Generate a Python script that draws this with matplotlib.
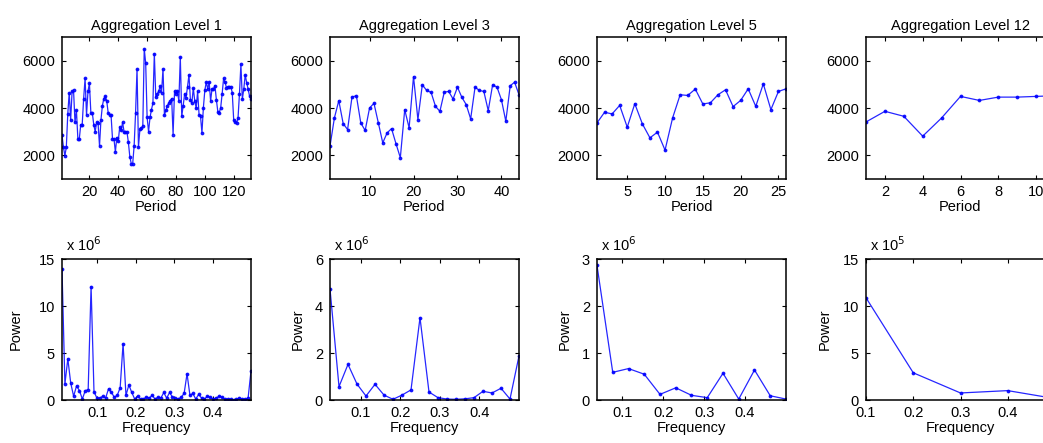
import numpy as np
import matplotlib
matplotlib.use("Agg")
import matplotlib.pyplot as plt

# ---------------- data ----------------
level1 = [2850, 2350, 1980, 2350, 3750, 4650, 3500, 4700, 4750, 3400, 3900, 2700,
          2700, 3300, 3300, 4400, 5250, 3700, 4700, 5050, 3800, 3800, 3300, 3000,
          3400, 3350, 2400, 3500, 4100, 4400, 4500, 4300, 3800, 3700, 3700, 2700,
          2700, 2150, 2750, 2600, 3200, 3050, 3400, 3000, 3000, 3000, 2550, 1950,
          1650, 1650, 2400, 3800, 5650, 2350, 3100, 3150, 3230, 6500, 5900, 3600,
          3000, 3600, 3930, 4200, 6300, 4450, 4600, 4700, 4920, 4650, 5650, 3700,
          3900, 4100, 4200, 4300, 4400, 2880, 4700, 4600, 4700, 4300, 6150, 3650,
          4100, 4600, 4440, 4900, 5400, 4340, 4200, 4850, 4300, 4000, 4700, 3720,
          3650, 2950, 4020, 4750, 5100, 4800, 5100, 4300, 4820, 4800, 4950, 4350,
          3850, 3800, 4020, 4600, 5250, 5100, 4850, 4900, 4900, 4900, 4650, 3500,
          3400, 3350, 3570, 4600, 5850, 4370, 4800, 5400, 5070, 4800, 4500, 4380]

level3 = [2390, 3580, 4310, 3340, 3090, 4460, 4520, 3370, 3050, 4000, 4200, 3370,
          2530, 2950, 3130, 2500, 1900, 3930, 3160, 5330, 3510, 4980, 4740, 4660,
          4070, 3860, 4670, 4700, 4380, 4880, 4450, 4140, 3540, 4880, 4740, 4700,
          3890, 4980, 4880, 4350, 3440, 4940, 5090, 4560]

level5 = [3370, 3820, 3750, 4110, 3190, 4180, 3330, 2740, 2980, 2220, 3580, 4560,
          4530, 4800, 4170, 4220, 4560, 4770, 4060, 4320, 4810, 4070, 5020, 3930,
          4700, 4810]

level12 = [3410, 3860, 3650, 2810, 3580, 4490, 4320, 4460, 4460, 4490, 4520]

# periodogram power (in units of 10^exponent)
power1 = [14.0, 1.7, 4.4, 1.8, 0.4, 1.5, 1.0, 0.1, 1.0, 1.1, 12.1, 0.9,
          0.2, 0.2, 0.4, 0.2, 1.2, 0.8, 0.3, 0.5, 1.3, 6.0, 0.5, 1.6,
          0.8, 0.1, 0.4, 0.1, 0.1, 0.3, 0.2, 0.5, 0.1, 0.3, 0.2, 0.8,
          0.2, 0.8, 0.3, 0.2, 0.1, 0.3, 0.7, 2.8, 0.5, 0.7, 0.1, 0.6,
          0.2, 0.1, 0.4, 0.3, 0.1, 0.2, 0.4, 0.3, 0.1, 0.1, 0.1, 0.0,
          0.1, 0.2, 0.1, 0.1, 0.2, 3.1]
power3 = [4.74, 0.57, 1.52, 0.68, 0.17, 0.67, 0.21, 0.03, 0.21, 0.43, 3.51, 0.34,
          0.10, 0.04, 0.03, 0.05, 0.10, 0.37, 0.30, 0.50, 0.04, 1.88]
power5 = [2.87, 0.59, 0.67, 0.55, 0.12, 0.26, 0.10, 0.05, 0.57, 0.02, 0.64, 0.09, 0.02]
power12 = [10.9, 2.9, 0.75, 1.0, 0.15]

exponents = [6, 6, 6, 5]
titles = ["Aggregation Level 1", "Aggregation Level 3", "Aggregation Level 5", "Aggregation Level 12"]
series = [level1, level3, level5, level12]
powers = [power1, power3, power5, power12]
n_points = [132, 44, 26, 10]

top_xticks = [[20, 40, 60, 80, 100, 120], [10, 20, 30, 40], [5, 10, 15, 20, 25], [2, 4, 6, 8, 10]]
bot_xticks = [[0.1, 0.2, 0.3, 0.4]] * 4
bot_ylim = [15, 6, 3, 15]
bot_yticks = [[0, 5, 10, 15], [0, 2, 4, 6], [0, 1, 2, 3], [0, 5, 10, 15]]
ylabel_x = [-0.206, -0.132, -0.132, -0.18]

# ---------------- style ----------------
plt.rcParams['font.family'] = ['Liberation Sans', 'DejaVu Sans']
plt.rcParams['font.size'] = 10.5
line_kw = dict(color='#0000ff', lw=0.9, alpha=0.85, marker='.', ms=3.5, mfc='#0000ff', mec='#0000ff')

fig = plt.figure(figsize=(10.43, 4.43), dpi=100)
lefts = [62, 330, 597, 866]
W, H = 1043.0, 443.0
aw = 189 / W

def style(ax):
    ax.tick_params(direction='in', top=True, right=True, length=3, width=0.8, labelsize=10.5)
    ax.tick_params(axis='x', pad=4)
    ax.tick_params(axis='y', pad=5)
    for s in ax.spines.values():
        s.set_linewidth(1.1)

for i in range(4):
    # top row: time series
    ax = fig.add_axes([lefts[i] / W, 1 - 179 / H, aw, 142 / H])
    y = series[i]
    x = np.arange(1, len(y) + 1)
    ax.plot(x, y, **line_kw)
    ax.set_xlim(1, len(y))
    ax.set_ylim(1000, 7000)
    ax.set_yticks([2000, 4000, 6000])
    ax.set_xticks(top_xticks[i])
    ax.set_title(titles[i], fontsize=10.5, pad=5)
    ax.set_xlabel("Period", labelpad=1)
    style(ax)

    # bottom row: periodogram
    ax2 = fig.add_axes([lefts[i] / W, 1 - 400 / H, aw, 140.7 / H])
    p = powers[i]
    f = np.arange(1, len(p) + 1) / n_points[i]
    ax2.plot(f, p, **line_kw)
    ax2.set_xlim(f[0], f[-1])
    ax2.set_ylim(0, bot_ylim[i])
    ax2.set_yticks(bot_yticks[i])
    ax2.set_xticks(bot_xticks[i])
    ax2.set_xticklabels([f"{t:g}" for t in bot_xticks[i]])
    ax2.set_xlabel("Frequency", labelpad=1)
    ax2.set_ylabel("Power")
    ax2.yaxis.set_label_coords(ylabel_x[i], 0.5)
    ax2.text(0.02, 1.04, r"x 10$^{%d}$" % exponents[i], transform=ax2.transAxes,
             ha='left', va='bottom', fontsize=10.5)
    style(ax2)

fig.savefig("out.png", dpi=100)
